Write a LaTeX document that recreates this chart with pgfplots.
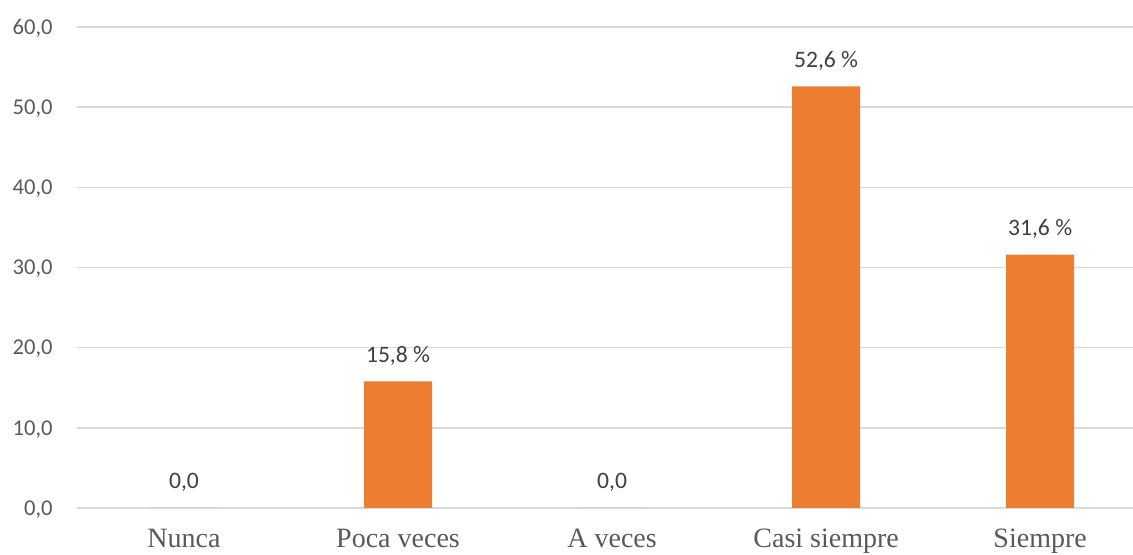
\documentclass[border=0pt]{standalone}
\usepackage{pgfplots}
\pgfplotsset{compat=1.18}
\usepackage{fontspec}
\setmainfont{Liberation Serif}
\newfontfamily\calfont{Carlito}
\definecolor{barorange}{HTML}{ED7D31}
\definecolor{gridgray}{HTML}{D9D9D9}
\definecolor{ticktext}{HTML}{595959}
\definecolor{labeltext}{HTML}{404040}
\begin{document}
\begin{tikzpicture}
\begin{axis}[
  scale only axis,
  width=528pt, height=240.5pt,
  xmin=-0.5, xmax=4.434,
  ymin=0, ymax=60,
  ytick={0,10,20,30,40,50,60},
  yticklabels={{0,0},{10,0},{20,0},{30,0},{40,0},{50,0},{60,0}},
  xtick={0,1,2,3,4},
  xticklabels={Nunca,Poca veces,A veces,Casi siempre,Siempre},
  axis line style={draw=none},
  major tick length=0pt,
  ymajorgrids,
  grid style={gridgray, line width=0.75pt},
  yticklabel style={font=\calfont\fontsize{11.3}{13}\selectfont, text=ticktext,
    anchor=base east, inner sep=0pt, xshift=-12pt, yshift=-3.6pt},
  xticklabel style={font=\fontsize{14}{16}\selectfont, text=ticktext,
    anchor=base, inner sep=0pt, yshift=-20pt},
  ybar, bar width=34pt,
  clip=false,
  point meta=explicit symbolic,
  nodes near coords={\pgfplotspointmeta},
  every node near coord/.append style={font=\calfont\fontsize{11.8}{13}\selectfont,
    text=labeltext, anchor=base, inner sep=0pt, yshift=9.5pt},
]
\addplot[fill=barorange, draw=none] coordinates {
  (0,0) [0,0]
  (1,15.8) [15,8 \%]
  (2,0) [0,0]
  (3,52.6) [52,6 \%]
  (4,31.6) [31,6 \%]
};
\end{axis}
\pgfresetboundingbox
\path (current axis.south west) ++(-38.5pt,-23.5pt) rectangle ++(566.5pt,277.5pt);
\end{tikzpicture}
\end{document}
